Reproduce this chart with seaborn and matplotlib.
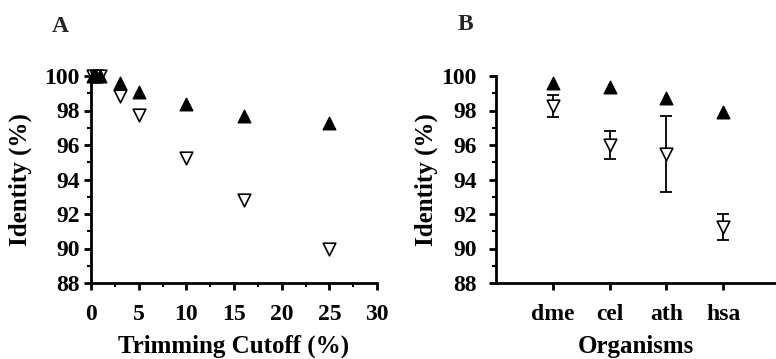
import matplotlib
matplotlib.use("Agg")
import matplotlib.pyplot as plt
import seaborn as sns
import pandas as pd
from matplotlib.ticker import MultipleLocator

sns.set_theme(style="ticks")
plt.rcParams['font.family'] = ['Liberation Serif', 'DejaVu Serif']
plt.rcParams['font.weight'] = 'bold'

# Panel A data
cutoff = [0.2, 0.5, 0.9, 3, 5, 10, 16, 25]
filled_a = [100.0, 100.0, 100.0, 99.6, 99.1, 98.4, 97.7, 97.3]
open_a = [100.0, 100.0, 100.0, 98.85, 97.75, 95.25, 92.8, 89.95]

# Panel B data
organisms = ["dme", "cel", "ath", "hsa"]
filled_b = [99.6, 99.35, 98.7, 97.9]
open_b = [98.25, 96.0, 95.5, 91.25]
open_b_err = [0.65, 0.8, 2.2, 0.75]

fig = plt.figure(figsize=(7.76, 3.59), dpi=100)
axA = fig.add_axes([91/776, 1-283/359, (377-91)/776, (283-76)/359])
axB = fig.add_axes([496/776, 1-283/359, (776-496)/776, (283-76)/359])

dfA = pd.DataFrame({"x": cutoff, "filled": filled_a, "open": open_a})
dfB = pd.DataFrame({"org": organisms, "filled": filled_b, "open": open_b, "err": open_b_err})

msize = 82
sns.scatterplot(data=dfA, x="x", y="open", ax=axA, marker="v", color="white",
                edgecolor="black", s=msize, linewidth=1.2, clip_on=False, zorder=3)
sns.scatterplot(data=dfA, x="x", y="filled", ax=axA, marker="^", color="black",
                edgecolor="black", s=msize, linewidth=1, clip_on=False, zorder=4)

axB.errorbar(dfB["org"], dfB["open"], yerr=dfB["err"], fmt="none", ecolor="black",
             elinewidth=1.3, capsize=4.5, capthick=1.3, zorder=2)
sns.scatterplot(data=dfB, x="org", y="filled", ax=axB, marker="^", color="black",
                edgecolor="black", s=msize, linewidth=1, clip_on=False, zorder=3)
sns.scatterplot(data=dfB, x="org", y="open", ax=axB, marker="v", color="white",
                edgecolor="black", s=msize, linewidth=1.2, clip_on=False, zorder=4)

for ax in (axA, axB):
    ax.set_ylim(88, 100)
    ax.set_yticks([88, 90, 92, 94, 96, 98, 100])
    ax.yaxis.set_minor_locator(MultipleLocator(1))
    for s in ("top", "right"):
        ax.spines[s].set_visible(False)
    for s in ("left", "bottom"):
        ax.spines[s].set_linewidth(2)
        ax.spines[s].set_color("black")
    ax.tick_params(axis="both", which="major", direction="out", length=5, width=2,
                   color="black", labelsize=17, labelcolor="black")
    ax.tick_params(axis="both", which="minor", direction="out", length=3, width=1.5,
                   color="black")
    ax.set_ylabel("Identity (%)", fontsize=18, fontweight="bold", color="black")

axA.set_xlim(0, 30)
axA.set_xticks([0, 5, 10, 15, 20, 25, 30])
axA.xaxis.set_minor_locator(MultipleLocator(2.5))
axA.tick_params(axis="x", which="major", pad=10)
axA.tick_params(axis="y", which="major", pad=3)
axA.set_xlabel("Trimming Cutoff (%)", fontsize=18, fontweight="bold", color="black", labelpad=7)
axA.yaxis.set_label_coords(-0.206, 0.5)

axB.set_xlim(-1, 3.93)
axB.tick_params(axis="x", which="major", pad=10)
axB.tick_params(axis="y", which="major", pad=9)
axB.set_xlabel("Organisms", fontsize=18, fontweight="bold", color="black", labelpad=7)
axB.yaxis.set_label_coords(-0.207, 0.5)

for lab in axA.get_xticklabels() + axA.get_yticklabels() + axB.get_xticklabels() + axB.get_yticklabels():
    lab.set_fontweight("bold")

fig.text(60/776, 1-26/359, "A", fontsize=17, fontweight="bold", ha="center", va="center")
fig.text(465/776, 1-25/359, "B", fontsize=17, fontweight="bold", ha="center", va="center")

fig.savefig("out.png", dpi=100, facecolor="white")
